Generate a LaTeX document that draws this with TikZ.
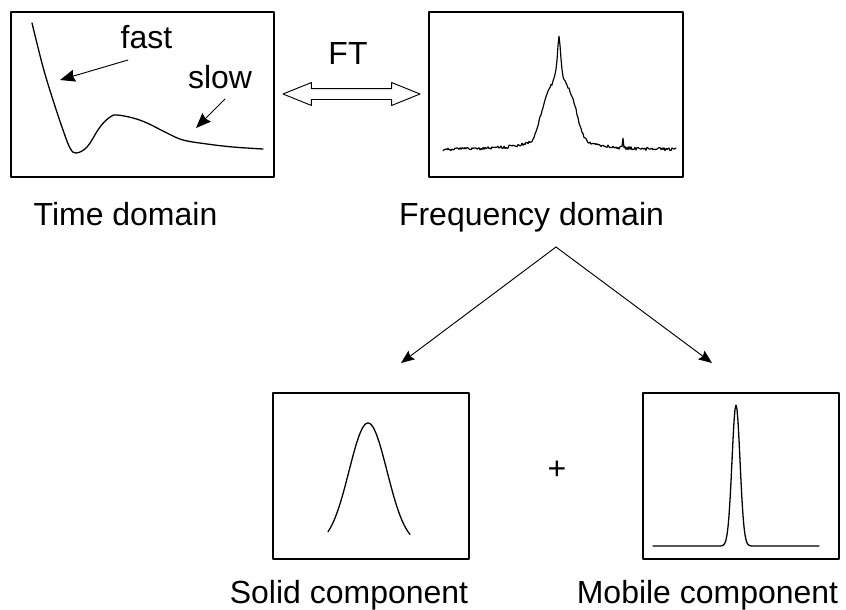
\documentclass[tikz,border=0pt]{standalone}
\usepackage{fontspec}
\setmainfont{Liberation Sans}
\usetikzlibrary{arrows.meta,positioning,shapes.arrows}

\begin{document}
\begin{tikzpicture}[x=0.03cm,y=-0.03cm,
          line cap=round,line join=round,
          panel/.style={draw,line width=1pt,inner sep=0pt},
          caption/.style={inner sep=0pt,anchor=base,font=\fontsize{27.3}{32}\selectfont},
          trace/.style={line width=1.1pt},
          pointer/.style={line width=0.8pt,-{Stealth[length=0.45cm,width=0.36cm,inset=0.05cm]}},
          branch/.style={line width=0.8pt,-{Stealth[length=0.4cm,width=0.32cm,inset=0.06cm]}}]
        \useasboundingbox (0,0) rectangle (846,609);
        \pgfmathsetseed{11}

        % the four panels
        \node[panel,minimum width=7.89cm,minimum height=4.95cm] (timebox) at (142.5,94.5) {};
        \node[panel,minimum width=7.62cm,minimum height=4.95cm] (freqbox) at (556,94.5) {};
        \node[panel,minimum width=5.88cm,minimum height=4.98cm] (solidbox) at (371,476) {};
        \node[panel,minimum width=5.88cm,minimum height=4.98cm] (mobilebox) at (741,476) {};

        \node[caption] (timelabel) at (125.5,225) {Time domain};
        \node[caption] (freqlabel) at (531.5,225) {Frequency domain};
        \node[caption] (solidlabel) at (349,603) {Solid component};
        \node[caption] (mobilelabel) at (707.5,603) {Mobile component};

        % decay curve
        \draw[trace] plot[smooth,tension=0.6] coordinates {
          (32,23) (43,67) (53,100) (63,130) (70,148) (76,153) (87,147)
          (100,127) (110,117) (117,115) (133,118) (147,123) (167,133)
          (183,140) (207,144) (233,147) (263,149)};
        \node[caption] (fast) at (146.5,48) {fast};
        \node[caption] (slow) at (220,88) {slow};
        \coordinate (fasttail) at (128,60);
        \coordinate (fasthead) at (60,80);
        \coordinate (slowtail) at (225,99);
        \coordinate (slowhead) at (196,128);
        \draw[pointer] (fasttail) -- (fasthead);
        \draw[pointer] (slowtail) -- (slowhead);

        % FT between the two domains
        \node[draw,double arrow,double arrow head extend=0.18cm,double arrow tip angle=44,
              inner xsep=0pt,inner ysep=0.15cm,minimum height=4.11cm,line width=0.8pt]
          (ft) at (351.5,94) {};
        \node[caption] (ftlabel) at (348,64) {FT};

        % measured spectrum: sharp line on a flat-topped broad one, with noise
        \draw[trace,line width=1pt] plot[domain=443:676,samples=234]
          (\x,{150-45*exp(-min(((\x-559)/20)*((\x-559)/20)*((\x-559)/20)*((\x-559)/20),50))
               -20/(1+((\x-559)/22)*((\x-559)/22))
               -50/(1+((\x-559)/2)*((\x-559)/2))
               -9*exp(-min(abs(\x-623),5)*min(abs(\x-623),5)/0.3)+3*(rnd-0.5)});

        % splitting into the two components
        \coordinate (split) at (556,247);
        \coordinate (solidtip) at (401,363);
        \coordinate (mobiletip) at (712,363);
        \draw[branch] (split) -- (solidtip);
        \draw[branch] (split) -- (mobiletip);

        \draw[trace] plot[domain=328:410,samples=83,smooth]
          (\x,{545-122*exp(-((\x-368)/19)*((\x-368)/19)/2)});
        \draw[trace] plot[domain=653:819,samples=167]
          (\x,{546-141*exp(-((\x-736)/4)*((\x-736)/4)/2)});
        \node[caption] (plus) at (557,479) {+};
      \end{tikzpicture}
\end{document}
